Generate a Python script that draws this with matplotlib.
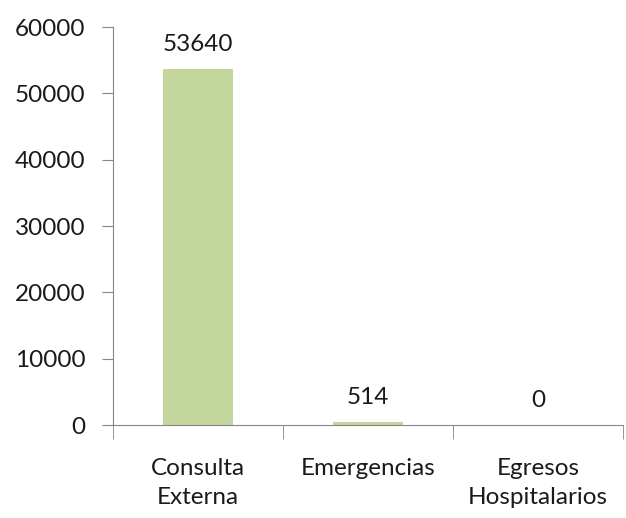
from matplotlib import pyplot as plt
import numpy as np

categories = ["Consulta\nExterna", "Emergencias", "Egresos\nHospitalarios"]
values = [53640, 514, 0]

plt.rcParams['font.family'] = ['Lato', 'DejaVu Sans']

fig = plt.figure(figsize=(6.26, 5.18), dpi=100)
ax = fig.add_axes([0.1805, 0.1795, 0.815, 0.768])

x = np.arange(len(categories))
ax.bar(x, values, width=0.41, color='#c3d69b')
for xi, v in zip(x, values):
    ax.annotate(str(v), (xi, v), xytext=(0, 10), textcoords='offset points',
                ha='center', va='bottom', fontsize=17.5, color='#1a1a1a')

ax.set_xlim(-0.5, len(categories) - 0.5)
ax.set_ylim(0, 60000)
ax.set_yticks(np.arange(0, 60001, 10000))
ax.tick_params(axis='y', labelsize=17.5, length=8, color='#868686', pad=12, labelcolor='#1a1a1a')

ax.set_xticks(x)
ax.set_xticklabels(categories, fontsize=17.5, color='#1a1a1a', linespacing=1.45)
ax.tick_params(axis='x', length=0, pad=24)
ax.set_xticks(np.arange(-0.5, len(categories), 1.0), minor=True)
ax.tick_params(axis='x', which='minor', length=10, color='#868686')

for s in ['top', 'right']:
    ax.spines[s].set_visible(False)
for s in ['left', 'bottom']:
    ax.spines[s].set_color('#868686')

plt.savefig("out.png", dpi=100)
plt.close()
